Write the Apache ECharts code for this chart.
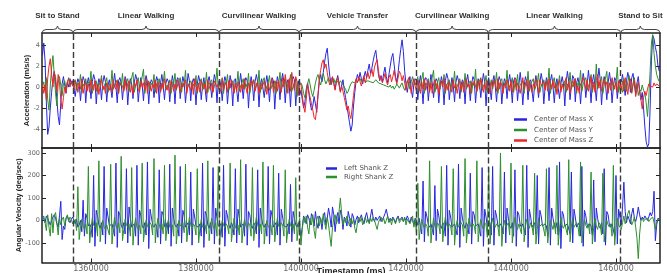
<!DOCTYPE html>
<html><head><meta charset="utf-8">
<script src="https://cdn.jsdelivr.net/npm/echarts@6/dist/echarts.min.js"></script>
<style>html,body{margin:0;padding:0;background:#fff}#c{width:667px;height:273px}</style>
</head><body><div id="c"></div>
<script>
// ---- sampling of the recorded signals ----
const sampleStartMs = 1350750;
const sampleStepMs = 250;

// ---- axis ticks ----
const xTicks = [1360000, 1380000, 1400000, 1420000, 1440000, 1460000];
const accTicks = [-4, -2, 0, 2, 4];
const gyroTicks = [-100, 0, 100, 200, 300];

// ---- activity phases (boundaries in ms) ----
const phaseBounds = [1350667, 1356570, 1384381, 1399620, 1421905, 1435676, 1460900, 1468381];
const phaseNames = ['Sit to Stand', 'Linear Walking', 'Curvilinear Walking', 'Vehicle Transfer', 'Curvilinear Walking', 'Linear Walking', 'Stand to Sit'];

// ---- Center of Mass X (acceleration) ----
const comX_sit = [3.0,4.2,2.5,-1.5,-4.5,-3.8,-2.0,-0.5,0.8,1.5,0.5,-1.2,-2.8,-3.6,-1.5,0.3,1.0,0.2,-0.6,0.5,0.0,0.8,0.3,0.6];
const comX_walk1 = [
0.5,-0.9,0.2,0.8, 0.4,-1.3,0.1,1.0, 0.6,-1.5,0.3,0.9, 0.2,-1.1,0.5,1.2,
0.7,-1.6,0.0,0.8, 0.3,-1.2,0.4,1.1, 0.5,-1.4,0.2,0.7, 0.8,-1.0,0.3,1.3,
0.1,-1.5,0.6,0.9, 0.4,-1.2,0.2,1.0, 0.6,-1.7,0.1,0.8, 0.3,-1.1,0.4,1.2,
0.7,-1.4,0.0,0.9, 0.2,-1.3,0.5,1.1, 0.5,-1.6,0.3,0.7, 0.4,-1.0,0.2,1.0,
0.6,-1.5,0.4,1.2, 0.1,-1.2,0.3,0.8, 0.5,-1.4,0.1,1.1, 0.3,-1.6,0.5,0.9,
0.7,-1.1,0.2,1.0, 0.4,-1.5,0.0,1.3, 0.6,-1.3,0.4,0.8, 0.2,-1.7,0.3,1.1,
0.5,-1.2,0.1,0.9, 0.8,-1.4,0.5,1.0, 0.3,-1.0,0.2,1.2, 0.6,-1.5,0.4,0.7,
0.1,-1.3,0.3,1.0, 0.5,-1.6,0.0,1.1, 0.4,-1.8,0.6,0.8, 0.7,-1.4,0.2,1.3,
0.2,-1.1,0.4,0.9, 0.6,-2.0,0.1,1.0, 0.3,-1.3,0.5,1.2, 0.5,-1.9,0.2,0.8,
0.8,-1.0,0.3,1.1, 0.1,-1.4,0.4,0.9, 0.6,-2.1,0.0,1.0, 0.4,-1.2,0.5,1.3,
0.5,-1.5,0.2,0.7, 0.3,-1.9,0.4,1.0, 0.7,-1.8,0.1,0.6, -0.8];
const comX_transfer = [
-0.3,-1.2,-2.0,-1.4,-0.2,0.4,-0.6,-1.5,-2.2,-1.8,
-0.9,-1.6,-2.4,-0.8,0.6,1.2,0.5,1.4,2.4,3.2,
3.7,2.2,1.0,0.3,0.9,0.4,-0.2,0.6,1.1,0.3,
-0.4,0.2,0.7,-0.3,-1.0,-1.8,-2.6,-3.4,-4.2,-3.6,
-1.8,-0.5,0.6,1.2,0.7,1.4,0.8,0.3,1.0,1.5,
0.9,1.6,2.2,1.3,1.8,2.5,3.1,3.5,2.4,1.2,
0.6,1.1,0.5,1.3,1.9,1.0,0.4,1.2,2.0,2.8,
3.2,2.1,1.0,0.5,1.4,2.6,3.6,4.5,3.4,1.5,
0.3,-0.5,0.4,1.0,-0.2,-1.0,0.3,0.8];
const comX_walk2 = [
0.6,-1.2,0.3,1.1, 0.2,-1.6,0.5,0.9, 0.7,-1.3,0.1,1.2, 0.4,-1.0,0.3,0.8,
0.5,-1.5,0.2,1.0, 0.3,-1.7,0.6,1.3, 0.8,-1.2,0.0,0.9, 0.1,-1.4,0.4,1.1,
0.6,-1.1,0.2,0.7, 0.4,-1.6,0.5,1.2, 0.2,-1.3,0.3,1.0, 0.7,-1.5,0.1,0.8,
0.3,-1.0,0.4,1.3, 0.5,-1.8,0.2,0.9, 0.8,-1.2,0.5,1.1, 0.1,-1.4,0.3,1.0,
0.6,-1.6,0.0,0.8, 0.4,-1.1,0.4,1.2, 0.2,-1.5,0.6,0.9, 0.7,-1.3,0.2,1.4,
0.3,-1.7,0.1,1.0, 0.5,-1.2,0.5,0.7, 0.8,-1.4,0.3,1.1, 0.2,-1.0,0.4,1.3,
0.6,-1.6,0.0,0.9, 0.4,-1.3,0.6,1.2, 0.1,-1.5,0.2,0.8, 0.7,-1.1,0.3,1.0,
0.3,-1.8,0.5,1.5, 0.5,-1.2,0.1,1.1, 0.8,-1.4,0.4,0.9, 0.2,-1.6,0.3,1.3,
0.6,-1.0,0.2,1.6, 0.4,-1.5,0.5,1.2, 0.1,-1.3,0.6,1.8, 0.7,-1.7,0.2,1.0,
0.3,-1.2,0.4,1.4, 0.5,-1.5,0.0,0.9, 0.6,-1.1,0.3,0.7];
const comX_stand = [0.5,1.2,0.2,-0.8,0.6,1.4,0.8,-0.5,0.9,1.3,0.2,-0.6,0.4,1.0,-0.3,-1.2,-0.5,-2.0,-3.8,-5.2,-5.7,-5.4,-2.0,2.5,4.9,4.6,3.8,3.2,2.0,1.5];

// ---- Center of Mass Y ----
const comY_sit = [0.0,0.5,-0.4,0.9,-1.2,-2.2,0.2,1.8,3.0,1.2,-0.6,-1.8,0.4,1.0,0.2,-0.8,0.3,0.6,-0.3,0.4,0.9,0.2,0.4,0.1];
const comY_walk1 = [
0.1,0.7,-0.3,0.4, 0.2,1.2,-0.5,0.3, 0.0,0.8,-0.2,0.5, 0.3,1.5,-0.6,0.2,
0.1,0.6,-0.4,0.4, 0.2,1.1,-0.3,0.1, 0.4,0.9,-0.5,0.3, 0.0,1.6,-0.2,0.2,
0.3,0.7,-0.6,0.5, 0.1,1.3,-0.3,0.2, 0.2,0.8,-0.4,0.4, 0.4,1.4,-0.5,0.1,
0.0,0.9,-0.2,0.3, 0.2,1.7,-0.6,0.2, 0.3,0.6,-0.3,0.4, 0.1,1.2,-0.5,0.3,
0.2,0.8,-0.4,0.1, 0.4,1.5,-0.2,0.2, 0.0,0.7,-0.6,0.5, 0.3,1.3,-0.3,0.2,
0.1,0.9,-0.5,0.4, 0.2,1.6,-0.4,0.1, 0.4,0.6,-0.2,0.3, 0.0,1.1,-0.6,0.2,
0.3,0.8,-0.3,0.4, 0.1,1.4,-0.5,0.3, 0.2,0.7,-0.4,0.1, 0.4,1.8,-0.2,0.2,
0.0,0.9,-0.6,0.5, 0.3,1.2,-0.3,0.2, 0.1,0.6,-0.5,0.4, 0.2,1.5,-0.4,0.1,
0.4,0.8,-0.2,0.3, 0.0,1.3,-0.6,0.2, 0.3,0.7,-0.3,0.4, 0.1,1.6,-0.5,0.3,
0.2,0.9,-0.4,0.1, 0.4,1.1,-0.2,0.2, 0.0,0.6,-0.6,0.5, 0.3,1.4,-0.3,0.2,
0.1,0.8,-0.5,0.4, 0.2,1.2,-0.4,0.1, 0.4,0.7,-0.9,0.3, 0.2];
const comY_transfer = [
0.4,0.1,-0.6,-1.0,-0.4,0.3,0.8,0.2,-0.5,-0.9,
-0.3,0.4,0.9,1.2,0.6,0.2,0.8,1.3,0.7,0.3,
0.6,0.9,0.5,0.2,0.6,0.8,0.4,0.7,0.5,0.3,
0.6,0.4,0.2,0.1,-0.2,-0.6,-0.4,0.0,0.3,0.5,
0.6,0.4,0.7,0.5,0.6,0.8,0.5,0.6,0.7,0.5,
0.4,0.6,0.7,0.5,0.6,0.4,0.5,0.7,0.6,0.4,
0.5,0.3,0.4,0.2,0.3,0.1,0.2,0.0,0.2,-0.1,
0.1,-0.2,0.0,0.3,0.1,-0.1,0.2,0.4,0.0,-0.3,
0.2,0.6,0.3,-0.2,0.5,1.0,0.4,0.2];
const comY_walk2 = [
0.3,1.0,-0.4,0.2, 0.1,1.4,-0.6,0.4, 0.2,0.8,-0.3,0.3, 0.4,1.6,-0.5,0.1,
0.0,0.9,-0.2,0.5, 0.3,1.2,-0.6,0.2, 0.1,0.7,-0.4,0.4, 0.2,1.5,-0.3,0.1,
0.4,0.8,-0.5,0.3, 0.0,1.3,-0.2,0.2, 0.3,0.6,-0.6,0.4, 0.1,1.7,-0.4,0.3,
0.2,0.9,-0.3,0.1, 0.4,1.1,-0.5,0.2, 0.0,0.7,-0.2,0.5, 0.3,1.4,-0.6,0.2,
0.1,0.8,-0.4,0.4, 0.2,1.6,-0.3,0.1, 0.4,0.9,-0.5,0.3, 0.0,1.2,-0.2,0.2,
0.3,0.6,-0.6,0.4, 0.1,1.5,-0.4,0.3, 0.2,0.8,-0.3,0.1, 0.4,1.3,-0.5,0.2,
0.0,0.7,-0.2,0.5, 0.3,1.8,-0.6,0.2, 0.1,0.9,-0.4,0.4, 0.2,1.1,-0.3,0.1,
0.4,0.6,-0.5,0.3, 0.0,1.4,-0.2,0.2, 0.3,0.8,-0.6,0.4, 0.1,1.6,-0.4,0.3,
0.2,0.9,-0.3,0.1, 0.4,1.2,-0.5,0.2, 0.0,2.2,-0.2,0.5, 0.3,1.0,-0.6,0.2,
0.1,1.5,-0.4,0.4, 0.2,0.7,-0.3,0.1, 0.4,1.9,-0.5,0.2];
const comY_stand = [0.3,-0.5,0.8,0.2,-0.4,0.5,1.1,0.0,-0.6,0.4,0.9,-0.2,0.3,-0.8,-0.2,-0.4,0.2,-0.3,-0.6,-1.5,-2.8,-1.0,1.5,4.2,5.0,3.2,2.0,1.2,0.8,0.5];

// ---- Center of Mass Z ----
const comZ_sit = [0.3,-0.6,0.2,-1.2,0.8,2.0,2.7,1.2,0.0,1.4,1.0,-0.4,1.2,0.4,-1.2,-2.1,-1.0,0.0,-0.5,0.5,0.8,0.0,0.6,0.4];
const comZ_walk1 = [
-0.3,0.6,0.2,-0.5, 0.4,-0.2,0.8,-0.6, 0.1,0.5,-0.4,0.3, -0.5,0.7,0.0,-0.3,
0.6,-0.4,0.3,-0.7, 0.2,0.8,-0.2,0.1, -0.6,0.4,0.5,-0.3, 0.3,-0.5,0.7,0.0,
-0.2,0.6,-0.6,0.4, 0.5,0.1,-0.4,0.8, -0.3,0.3,0.6,-0.5, 0.2,-0.7,0.4,0.1,
0.7,-0.2,-0.5,0.6, 0.0,0.4,-0.3,0.8, -0.6,0.5,0.2,-0.4, 0.3,-0.1,0.7,-0.6,
0.5,0.2,-0.5,0.4, -0.2,0.8,0.0,-0.3, 0.4,-0.6,0.6,0.2, -0.4,0.3,-0.2,0.7,
0.6,-0.5,0.4,0.0, -0.1,0.7,-0.6,0.3, 0.2,-0.3,0.5,-0.7, 0.8,0.1,-0.4,0.4,
-0.5,0.6,0.2,-0.2, 0.3,-0.6,0.7,0.1, -0.3,0.4,-0.5,0.6, 0.5,0.0,0.3,-0.6,
-0.2,0.8,-0.3,0.2, 0.4,-0.5,0.6,-0.1, 0.7,0.2,-0.6,0.3, -0.4,0.5,0.1,-0.5,
0.3,-0.2,0.8,0.0, -0.6,0.4,-0.3,0.6, 0.2,0.7,-0.4,0.1, 0.5,-0.6,0.3,-0.2,
-0.1,0.6,0.5,-0.7, 0.4,-0.3,0.2,0.8, -0.5,0.1,0.6,-0.4, 0.6,-0.2,-0.5,0.9,
0.0,1.2,0.3,-0.6, 0.8,-0.4,1.4,0.2, -0.3,1.0,0.5,-0.8, 0.4];
const comZ_transfer = [
0.2,-0.8,-1.8,-2.4,-1.2,0.3,-0.4,-1.0,-1.6,-2.2,
-2.9,-3.1,-2.0,-0.6,0.8,1.6,2.3,2.6,1.8,2.2,
1.4,0.6,0.2,0.7,1.0,0.3,-0.3,0.5,0.9,0.2,
-0.5,0.1,-0.4,-1.0,-1.6,-2.2,-1.8,-2.6,-3.0,-2.0,
-0.8,0.2,0.8,0.4,1.0,0.5,0.1,0.7,1.1,0.4,
0.9,1.4,0.8,1.2,1.7,1.0,1.9,2.3,2.6,1.6,
0.7,1.0,0.4,0.8,1.3,0.6,0.2,0.9,1.2,0.5,
1.0,1.6,0.8,0.3,0.9,1.5,1.2,0.6,1.1,0.4,
-0.3,0.5,0.9,0.2,-0.6,0.4,0.8,0.1];
const comZ_walk2 = [
-0.4,0.7,0.1,-0.6, 0.5,-0.2,0.8,-0.3, 0.2,0.6,-0.5,0.4, -0.6,0.3,0.7,-0.2,
0.4,-0.7,0.2,0.6, 0.0,0.8,-0.4,0.3, -0.3,0.5,0.6,-0.5, 0.7,-0.1,0.3,-0.6,
0.2,0.6,-0.3,0.5, -0.5,0.4,0.8,0.0, 0.3,-0.6,0.5,0.2, 0.6,0.1,-0.4,0.7,
-0.2,0.8,0.2,-0.5, 0.4,-0.3,0.6,0.1, -0.6,0.5,0.0,0.7, 0.3,-0.4,0.8,-0.2,
0.5,0.2,-0.6,0.4, -0.1,0.7,0.3,-0.4, 0.6,-0.5,0.1,0.8, -0.3,0.4,0.5,-0.6,
0.2,0.9,-0.2,0.3, 0.7,-0.4,0.6,0.0, -0.5,0.3,-0.1,0.8, 0.4,-0.6,0.7,0.2,
0.1,0.5,-0.3,0.6, -0.4,0.8,0.2,-0.2, 0.6,-0.1,0.4,-0.7, 0.2,0.7,-0.5,0.3,
-0.2,0.4,0.9,-0.3, 0.5,-0.6,0.2,0.6, 0.0,0.8,-0.4,0.1, -0.6,0.3,0.5,0.9,
0.4,-0.2,0.7,-0.4, 0.2,1.0,-0.3,0.5, -0.5,0.6,1.2,-0.1, 0.7,-0.4,0.3,0.8,
0.1,0.5,-0.6,0.4, -0.3,0.9,0.2,-0.2, 0.5,-0.5,0.6,0.3];
const comZ_stand = [-0.2,0.6,-0.4,0.9,0.1,-0.7,0.4,0.8,-0.5,0.2,0.7,-0.9,-0.2,0.5,-0.4,-1.2,-2.1,-1.0,-0.4,-0.8,-0.2,0.3,0.1,0.2,0.0,0.4,0.1,0.3,0.2,0.1];

// ---- Left Shank Z (angular velocity) ----
const leftShank_sit = [15,5,-10,20,10,-5,-20,0,15,25,10,-15,-30,20,85,-85,-25,-40,10,20,0,-10,5,15];
const leftShank_walk1 = [
10,-15,5,-30,-20,0,-50,90,-70,30,
10,-25,-15,-30,-75,200,-115,45,20,-20,
-35,-10,-65,240,-105,55,15,-25,-30,-15,
-20,-70,255,-120,40,25,-20,-35,-10,-60,
230,-100,60,10,-30,-25,-15,-70,245,-110,
45,20,-25,-35,-10,-65,260,-125,50,15,
-20,-30,-15,-25,-75,225,-105,40,25,-25,
-35,-10,-60,250,-115,55,10,-20,-30,-15,
-70,240,-100,45,20,-30,-35,-10,-65,215,
-110,50,15,-25,-20,-30,-15,-70,255,-120,
40,25,-20,-35,-10,-60,235,-105,55,10,
-25,-30,-15,-75,245,-115,45,20,-20,-35,
-10,-25,-65,230,-100,50,15,-30,-30,-15,
-70,250,-110,40,25,-25,-35,-10,-20,-60,
225,-120,55,10,-20,-30,-15,-70,240,-105,
45,20,-30,-35,-10,-65,210,-110,50,15,
-25,-20,-30,-15,-60,160,-95,40,10,-20,
-30,-10,-40];
const leftShank_transfer = [
-70,-30,20,5,-15,25,10,-20,30,15,
-25,40,-10,-35,20,5,-40,15,35,-20,
10,55,20,-30,60,25,-50,10,35,-15,
45,20,-40,15,5,-25,40,10,-30,30,
15,-20,5,20,-10,10,25,0,-15,15,
35,5,-10,20,50,10,-5,15,0,10,
20,-5,5,15,30,50,20,-5,10,0,
15,5,-10,10,20,0,5,15,-5,10,
0,20,5,-10,15,0,-20,10];
const leftShank_walk2 = [
15,-20,10,-30,-60,175,-95,40,15,-20,
-30,-15,-20,-65,155,-90,50,20,-25,-35,
-10,-20,-70,245,-110,45,15,-30,-25,-15,
-20,-65,250,-120,55,10,-20,-35,-10,-25,
-60,210,-105,40,25,-25,-30,-15,-20,-70,
235,-115,50,15,-30,-35,-10,-65,240,-110,
45,20,-20,-30,-15,-25,-60,215,-100,55,
10,-25,-35,-10,-70,225,-115,40,25,-20,
-30,-15,-20,-65,245,-120,50,15,-30,-35,
-10,-60,200,-105,45,20,-25,-30,-15,-25,
-70,235,-110,55,10,-20,-35,-10,-65,260,
-125,40,25,-25,-30,-15,-20,-60,215,-100,
50,15,-30,-35,-10,-70,240,-115,45,20,
-20,-30,-15,-25,-65,180,-95,55,10,-25,
-35,-10,-60,230,-110,40,25,-20,-30,-15,
-20,-70,200,-105,50,15];
const leftShank_stand = [-20,60,170,40,-10,20,5,-15,30,55,10,-5,20,60,25,0,15,5,20,10,0,15,35,20,40,130,-90,-20,10,5];

// ---- Right Shank Z (angular velocity) ----
const rightShank_sit = [5,20,-10,-45,25,-30,-70,30,-55,20,35,-10,-65,10,-20,5,15,-25,10,25,-5,15,5,-15];
const rightShank_walk1 = [
-20,5,-45,150,-85,-30,5,-25,-40,-15,
-60,240,-100,-35,10,-20,-30,-10,-70,265,
-95,-25,0,-30,-40,-20,-15,-65,250,-105,
-30,15,-25,-35,-10,-55,285,-90,-40,5,
-20,-30,-15,-70,235,-110,-25,10,-30,-40,
-20,-60,255,-95,-35,0,-25,-35,-10,-20,
-65,275,-100,-30,10,-20,-40,-15,-60,245,
-90,-25,5,-30,-35,-20,-70,290,-105,-40,
0,-25,-30,-10,-55,250,-95,-30,15,-20,
-40,-15,-25,-65,230,-100,-35,5,-30,-35,
-20,-60,265,-90,-25,10,-25,-40,-10,-70,
240,-110,-30,0,-20,-35,-15,-25,-60,255,
-95,-35,10,-30,-40,-20,-65,270,-100,-30,
5,-25,-35,-10,-20,-70,235,-90,-25,15,
-20,-40,-15,-60,260,-105,-35,0,-30,-30,
-20,-65,245,-95,-30,10,-25,-35,-10,-20,
-70,225,-100,-40,5,-20,-35,-15,-60,190,
-90,-30,10];
const rightShank_transfer = [
-110,-40,15,-10,20,-30,-60,10,-20,25,
-45,-80,5,20,-25,10,-15,30,-10,-40,
15,-20,-70,-115,-30,10,25,-15,5,40,
100,30,-20,5,-10,20,-5,-25,10,-15,
5,-35,-55,-10,15,-5,10,-20,0,15,
-10,5,-15,10,-5,15,0,-20,-40,-10,
5,15,-5,10,-15,0,20,-10,5,-20,
10,0,-15,5,15,-10,0,10,-5,15,
-20,5,10,-15,0,20,-30,5];
const rightShank_walk2 = [
-60,165,-85,-30,5,-20,-35,-15,-25,-70,
265,-100,-35,10,-25,-40,-10,-20,-60,240,
-95,-25,15,-20,-35,-15,-25,-65,230,-110,
-30,0,-30,-30,-10,-20,-70,275,-100,-40,
10,-20,-35,-15,-25,-60,265,-95,-30,5,
-25,-40,-10,-20,-75,235,-105,-25,10,-20,
-30,-15,-25,-70,300,-115,-35,0,-30,-35,
-10,-65,255,-100,-30,15,-25,-40,-15,-20,
-60,245,-95,-25,5,-20,-35,-10,-25,-65,
210,-105,-40,10,-25,-30,-15,-20,-70,230,
-100,-30,0,-20,-40,-10,-60,245,-110,-35,
15,-25,-35,-15,-20,-65,270,-95,-25,10,
-30,-30,-10,-25,-70,260,-100,-40,5,-20,
-35,-15,-60,215,-105,-30,10,-25,-40,-10,
-20,-65,210,-95,-35,0,-20,-30,-15,-70,
245,-110,-30,10,-20,-30];
const rightShank_stand = [-40,-10,20,-15,5,30,45,10,-20,-5,15,-30,-80,-170,-60,0,10,-5,5,0,10,-5,5,0,15,-10,-40,-5,5,0];

// ---- assemble ----
const comX = [].concat(comX_sit, comX_walk1, comX_transfer, comX_walk2, comX_stand);
const comY = [].concat(comY_sit, comY_walk1, comY_transfer, comY_walk2, comY_stand);
const comZ = [].concat(comZ_sit, comZ_walk1, comZ_transfer, comZ_walk2, comZ_stand);
const leftShank = [].concat(leftShank_sit, leftShank_walk1, leftShank_transfer, leftShank_walk2, leftShank_stand);
const rightShank = [].concat(rightShank_sit, rightShank_walk1, rightShank_transfer, rightShank_walk2, rightShank_stand);
const withTime = arr => arr.map((v, i) => [sampleStartMs + i * sampleStepMs, v]);

const C_BLUE = '#2626e0', C_GREEN = '#2e8f2e', C_RED = '#f02424';
const xMin = phaseBounds[0], xMax = phaseBounds[phaseBounds.length - 1];
const spine = { color: '#222', width: 1.5 };

function xAx(gridIndex, position, showLabels, name) {
  return {
    type: 'value', gridIndex, position, min: xMin, max: xMax,
    name: name || '', nameLocation: 'middle', nameGap: 5, nameMoveOverlap: false,
    nameTextStyle: { fontSize: 9, fontWeight: 'bold', color: '#222', fontFamily: 'Liberation Sans', verticalAlign: 'top' },
    axisLine: { show: true, onZero: false, lineStyle: spine },
    axisTick: { show: true, inside: true, length: 4, customValues: xTicks, lineStyle: { color: '#222', width: 1 } },
    axisLabel: { show: showLabels, customValues: xTicks, formatter: v => String(v), fontSize: 8, color: '#666', margin: 2, fontFamily: 'DejaVu Sans' },
    splitLine: { show: false }
  };
}
function yAx(gridIndex, position, min, max, ticks, showLabels, name, gap) {
  return {
    type: 'value', gridIndex, position, min, max,
    name: name || '', nameLocation: 'middle', nameGap: gap || 10, nameMoveOverlap: false,
    nameTextStyle: { fontSize: 7.5, fontWeight: 'bold', color: '#222', fontFamily: 'Liberation Sans' },
    axisLine: { show: true, onZero: false, lineStyle: spine },
    axisTick: { show: true, inside: true, length: 4, customValues: ticks, lineStyle: { color: '#222', width: 1 } },
    axisLabel: { show: showLabels, customValues: ticks, formatter: v => String(v), fontSize: 6.5, color: '#666', margin: 2, fontFamily: 'DejaVu Sans' },
    splitLine: { show: false }
  };
}

const dashed = {
  silent: true, symbol: ['none', 'none'], label: { show: false },
  lineStyle: { type: [6, 3], color: '#3a3a3a', width: 1.4 },
  data: phaseBounds.slice(1, -1).map(v => ({ xAxis: v }))
};

const chart = echarts.init(document.getElementById('c'));
chart.setOption({
  animation: false,
  backgroundColor: '#fff',
  grid: [
    { left: 42, top: 33, width: 618, height: 115, outerBoundsMode: 'none', containLabel: false },
    { left: 42, top: 148, width: 618, height: 114.5, outerBoundsMode: 'none', containLabel: false }
  ],
  xAxis: [
    xAx(0, 'bottom', false), xAx(0, 'top', false),
    xAx(1, 'bottom', true, 'Timestamp (ms)'), xAx(1, 'top', false)
  ],
  yAxis: [
    yAx(0, 'left', -5.8, 5.15, accTicks, true, 'Acceleration (m/s/s)', 11),
    yAx(0, 'right', -5.8, 5.15, accTicks, false),
    yAx(1, 'left', -187, 322, gyroTicks, true, 'Angular Velocity (deg/sec)', 19.5),
    yAx(1, 'right', -187, 322, gyroTicks, false)
  ],
  legend: [
    { data: ['Center of Mass X', 'Center of Mass Y', 'Center of Mass Z'], orient: 'vertical', left: 509, top: 111,
      icon: 'rect', itemWidth: 13, itemHeight: 2.5, itemGap: 3.5,
      textStyle: { fontSize: 7, color: '#555', fontFamily: 'DejaVu Sans', padding: [0, 0, 0, 2] } },
    { data: ['Left Shank Z', 'Right Shank Z'], orient: 'vertical', left: 321, top: 160,
      icon: 'rect', itemWidth: 11, itemHeight: 2.5, itemGap: 1.5,
      textStyle: { fontSize: 7, color: '#555', fontFamily: 'DejaVu Sans', padding: [0, 0, 0, 2] } }
  ],
  series: [
    { name: 'Center of Mass X', type: 'line', xAxisIndex: 0, yAxisIndex: 0, data: withTime(comX), showSymbol: false,
      lineStyle: { width: 1, color: C_BLUE }, itemStyle: { color: C_BLUE }, markLine: dashed, z: 2 },
    { name: 'Center of Mass Y', type: 'line', xAxisIndex: 0, yAxisIndex: 0, data: withTime(comY), showSymbol: false,
      lineStyle: { width: 1, color: C_GREEN }, itemStyle: { color: C_GREEN }, z: 2 },
    { name: 'Center of Mass Z', type: 'line', xAxisIndex: 0, yAxisIndex: 0, data: withTime(comZ), showSymbol: false,
      lineStyle: { width: 1, color: C_RED }, itemStyle: { color: C_RED }, z: 2 },
    { name: 'Left Shank Z', type: 'line', xAxisIndex: 2, yAxisIndex: 2, data: withTime(leftShank), showSymbol: false,
      lineStyle: { width: 1, color: C_BLUE }, itemStyle: { color: C_BLUE }, markLine: dashed, z: 2 },
    { name: 'Right Shank Z', type: 'line', xAxisIndex: 2, yAxisIndex: 2, data: withTime(rightShank), showSymbol: false,
      lineStyle: { width: 1, color: C_GREEN }, itemStyle: { color: C_GREEN }, z: 2 },
    { name: 'phases', type: 'custom', xAxisIndex: 0, yAxisIndex: 0, clip: false, silent: true,
      dimensions: ['start', 'end'], encode: { x: [0, 1] },
      data: phaseNames.map((n, i) => [phaseBounds[i], phaseBounds[i + 1]]),
      renderItem: function (params, api) {
        const x1 = api.coord([api.value(0), 0])[0];
        const x2 = api.coord([api.value(1), 0])[0];
        const top = params.coordSys.y;
        const xm = (x1 + x2) / 2, h = 3.5, r = 4;
        const ly = top - h;
        const d = 'M' + x1 + ' ' + (top + 0.5) + ' Q' + x1 + ' ' + ly + ' ' + (x1 + r) + ' ' + ly +
          ' L' + (xm - r) + ' ' + ly + ' Q' + xm + ' ' + ly + ' ' + xm + ' ' + (ly - 3.5) +
          ' Q' + xm + ' ' + ly + ' ' + (xm + r) + ' ' + ly + ' L' + (x2 - r) + ' ' + ly +
          ' Q' + x2 + ' ' + ly + ' ' + x2 + ' ' + (top + 0.5);
        return {
          type: 'group',
          children: [
            { type: 'path', shape: { pathData: d }, style: { fill: 'none', stroke: '#444', lineWidth: 1 } },
            { type: 'text', style: { text: phaseNames[params.dataIndex], x: xm, y: top - 17, align: 'center', verticalAlign: 'middle',
              font: 'bold 8px "Liberation Sans"', fill: '#333' } }
          ]
        };
      }
    }
  ]
});
</script>
</body></html>
